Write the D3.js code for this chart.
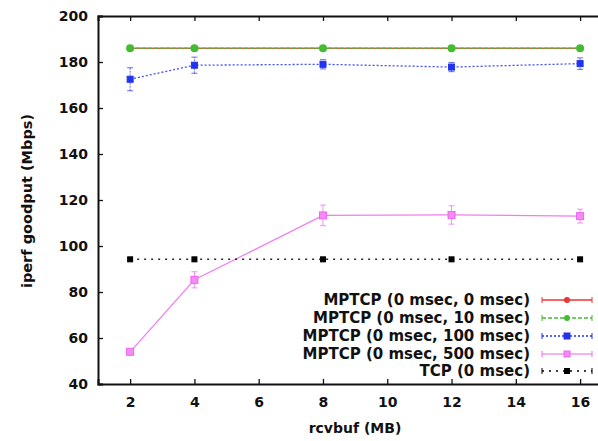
<!DOCTYPE html>
<html><head><meta charset="utf-8">
<script src="https://cdn.jsdelivr.net/npm/d3@7"></script>
<style>body{margin:0;background:#fff}svg{display:block}text{font-family:"DejaVu Sans",Arial,sans-serif;font-weight:bold}</style>
</head><body>
<svg id="c" width="598" height="441"></svg>
<script>
const xValues = [2, 4, 8, 12, 16];
const xTicks = [2, 4, 6, 8, 10, 12, 14, 16];
const yTicks = [40, 60, 80, 100, 120, 140, 160, 180, 200];
const seriesNames = ["MPTCP (0 msec, 0 msec)", "MPTCP (0 msec, 10 msec)", "MPTCP (0 msec, 100 msec)", "MPTCP (0 msec, 500 msec)", "TCP (0 msec)"];
const mptcp0 = [186, 186, 186, 186, 186];
const mptcp0Err = [0.3, 0.3, 0.3, 0.3, 0.3];
const mptcp10 = [186, 186, 186, 186, 186];
const mptcp10Err = [0.3, 0.3, 0.3, 0.3, 0.3];
const mptcp100 = [172.5, 178.6, 179, 177.8, 179.3];
const mptcp100Err = [5, 3.5, 2, 2, 2.5];
const mptcp500 = [54, 85.3, 113.3, 113.5, 113];
const mptcp500Err = [0.5, 3.5, 4.5, 4, 3];
const tcp = [94.2, 94.2, 94.2, 94.2, 94.2];
const tcpErr = [0, 0, 0, 0, 0];

const FONT = "DejaVu Sans, Arial, sans-serif";
const svg = d3.select("#c");
const L = 98, T = 16, B = 384;
const x = d3.scaleLinear().domain([1, 17]).range([L, L + 16 * 32.14]);
const y = d3.scaleLinear().domain([40, 200]).range([B, T]);

const series = [
  {name: seriesNames[0], v: mptcp0, e: mptcp0Err, color: "#ee3333", dash: null, marker: "circle", size: 3, width: 1.6},
  {name: seriesNames[1], v: mptcp10, e: mptcp10Err, color: "#44bb33", dash: "4,2", marker: "circle", size: 4, width: 1.6},
  {name: seriesNames[2], v: mptcp100, e: mptcp100Err, color: "#2233ee", dash: "2,2", marker: "square", size: 6, width: 1.3},
  {name: seriesNames[3], v: mptcp500, e: mptcp500Err, color: "#ee66ee", dash: null, marker: "square", size: 7, width: 1.2},
  {name: seriesNames[4], v: tcp, e: tcpErr, color: "#000000", dash: "2,5", marker: "square", size: 5, width: 1.5}
];

// axes
const gx = svg.append("g").attr("transform", `translate(0,${B})`)
  .call(d3.axisBottom(x).tickValues(xTicks).tickSize(-5).tickPadding(13).tickFormat(d3.format("d")));
const gxt = svg.append("g").attr("transform", `translate(0,${T})`)
  .call(d3.axisTop(x).tickValues(xTicks).tickSize(-5).tickFormat(""));
const gy = svg.append("g").attr("transform", `translate(${L},0)`)
  .call(d3.axisLeft(y).tickValues(yTicks).tickSize(-5).tickPadding(10));
[gx, gxt, gy].forEach(g => {
  g.select(".domain").attr("stroke", "#111").attr("stroke-width", 2);
  g.selectAll(".tick line").attr("stroke", "#111").attr("stroke-width", 1.3);
  g.selectAll("text").attr("font-size", 14).attr("font-weight", "bold").attr("fill", "#111")
    .attr("font-family", FONT);
});
gy.selectAll(".tick text").attr("dy", "0.35em");

svg.append("text").attr("x", 355).attr("y", 433).attr("text-anchor", "middle")
  .attr("font-size", 14).attr("fill", "#111").text("rcvbuf (MB)");
svg.append("text").attr("transform", "translate(32,201) rotate(-90)").attr("text-anchor", "middle")
  .attr("font-size", 14.5).attr("fill", "#111").text("iperf goodput (Mbps)");

const plot = svg.append("g");
const line = d3.line().x((d, i) => x(xValues[i])).y(d => y(d));

function marker(g, s, cx, cy) {
  if (s.marker === "circle") {
    g.append("circle").attr("cx", cx).attr("cy", cy).attr("r", s.size).attr("fill", s.color);
  } else {
    const fill = s.name.includes("500") ? "#f58af5" : s.color;
    g.append("rect").attr("x", cx - s.size / 2).attr("y", cy - s.size / 2)
      .attr("width", s.size).attr("height", s.size).attr("fill", fill)
      .attr("stroke", s.color).attr("stroke-width", 1);
  }
}

series.forEach(s => {
  const g = plot.append("g");
  g.append("path").datum(s.v).attr("d", line).attr("fill", "none")
    .attr("stroke", s.color).attr("stroke-width", s.width)
    .attr("stroke-dasharray", s.dash).attr("opacity", 0.85);
  s.v.forEach((v, i) => {
    const cx = x(xValues[i]);
    if (s.e[i] > 0) {
      const y1 = y(v - s.e[i]), y2 = y(v + s.e[i]);
      g.append("line").attr("x1", cx).attr("x2", cx).attr("y1", y1).attr("y2", y2)
        .attr("stroke", s.color).attr("stroke-width", 1).attr("stroke-dasharray", s.dash ? "2,1" : null).attr("opacity", 0.7);
      [y1, y2].forEach(yy => g.append("line").attr("x1", cx - 3).attr("x2", cx + 3).attr("y1", yy).attr("y2", yy)
        .attr("stroke", s.color).attr("stroke-width", 1).attr("opacity", 0.7));
    }
    marker(g, s, cx, y(v));
  });
});

// legend
const legRows = [300, 318, 336, 354, 371];
series.forEach((s, i) => {
  const ly = legRows[i];
  svg.append("text").attr("x", 530).attr("y", ly).attr("dy", "0.36em").attr("text-anchor", "end")
    .attr("font-size", 15).attr("fill", "#111").text(s.name);
  svg.append("line").attr("x1", 542).attr("x2", 592).attr("y1", ly).attr("y2", ly)
    .attr("stroke", s.color).attr("stroke-width", s.width).attr("stroke-dasharray", s.dash);
  [542, 592].forEach(xx => svg.append("line").attr("x1", xx).attr("x2", xx).attr("y1", ly - 3).attr("y2", ly + 3)
    .attr("stroke", s.color).attr("stroke-width", 1));
  const ls = Object.assign({}, s, {size: s.marker === "circle" ? Math.min(s.size, 3) : Math.min(s.size, 6)});
  marker(svg, ls, 567, ly);
});
</script>
</body></html>
